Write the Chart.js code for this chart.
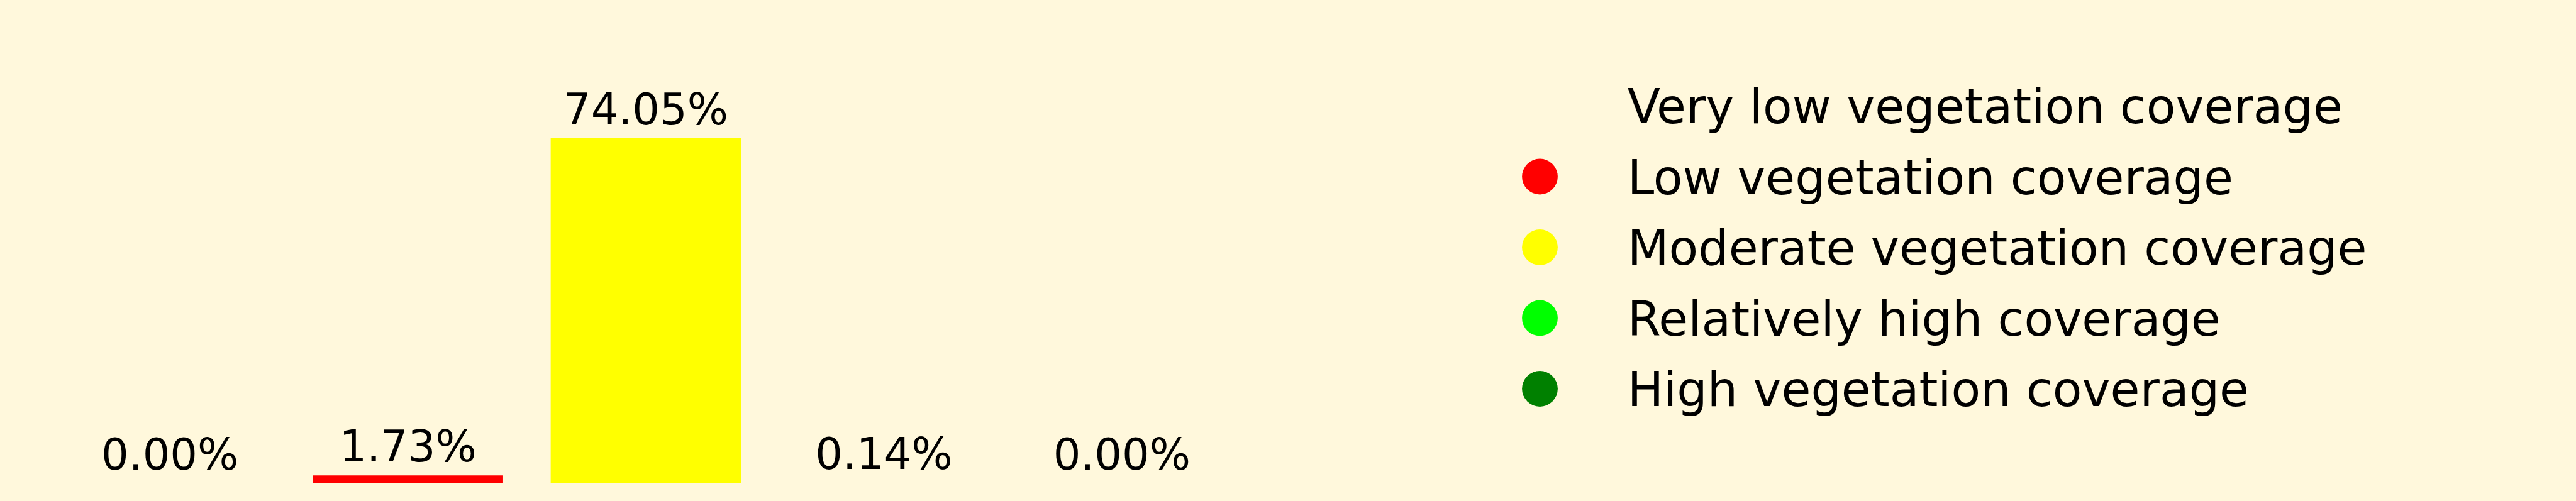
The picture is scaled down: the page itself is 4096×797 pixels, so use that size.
<!DOCTYPE html>
<html>
<head>
<meta charset="utf-8">
<title>Vegetation coverage</title>
<script src="https://cdn.jsdelivr.net/npm/chart.js@4/dist/chart.umd.min.js"></script>
<style>
  html, body { margin: 0; padding: 0; background: #FFF8DC; overflow: hidden; }
  #wrap { width: 4096px; height: 797px; }
</style>
</head>
<body>
<div id="wrap"><canvas id="bar-chart"></canvas></div>
<script>
// data
const categories = [
    "Very low vegetation coverage",
    "Low vegetation coverage",
    "Moderate vegetation coverage",
    "Relatively high coverage",
    "High vegetation coverage"
];
const shares = [0.00, 1.73, 74.05, 0.14, 0.00];
const barColors = ["#FFF8DC", "#FF0000", "#FFFF00", "#00FF00", "#008000"];

const FONT = "'DejaVu Sans', sans-serif";

// background fill
const bgPlugin = {
    id: 'bg',
    beforeDraw(chart) {
        const ctx = chart.ctx;
        ctx.save();
        ctx.fillStyle = '#FFF8DC';
        ctx.fillRect(0, 0, chart.width, chart.height);
        ctx.restore();
    }
};

// percentage above each bar
const valueLabels = {
    id: 'valueLabels',
    afterDatasetsDraw(chart) {
        const ctx = chart.ctx;
        const meta = chart.getDatasetMeta(0);
        ctx.save();
        ctx.font = '68.7px ' + FONT;
        ctx.fillStyle = '#000';
        ctx.textAlign = 'center';
        ctx.textBaseline = 'alphabetic';
        meta.data.forEach((bar, i) => {
            ctx.fillText(shares[i].toFixed(2) + '%', bar.x, bar.y - 22);
        });
        ctx.restore();
    }
};

// legend on the right, one row per category
const sideLegend = {
    id: 'sideLegend',
    afterDraw(chart) {
        const ctx = chart.ctx;
        const size = 76.3;
        const x0 = 2448.5, tx = 2587.7, y0 = 168.5, step = 112.5;
        ctx.save();
        ctx.font = size + 'px ' + FONT;
        ctx.textAlign = 'left';
        ctx.textBaseline = 'alphabetic';
        categories.forEach((name, i) => {
            const cy = y0 + i * step;
            ctx.beginPath();
            ctx.arc(x0, cy, 28.4, 0, Math.PI * 2);
            ctx.fillStyle = barColors[i];
            ctx.fill();
            ctx.fillStyle = '#000';
            ctx.fillText(name, tx, cy + size * 0.729 / 2);
        });
        ctx.restore();
    }
};

new Chart(document.getElementById("bar-chart"), {
    type: 'bar',
    data: {
        labels: categories,
        datasets: [
            {
                label: "Share of area",
                backgroundColor: barColors,
                data: shares,
                barPercentage: 0.8,
                categoryPercentage: 1.0
            }
        ]
    },
    options: {
        responsive: true,
        maintainAspectRatio: false,
        animation: false,
        layout: { padding: { left: 81, right: 2123, top: 27, bottom: 28 } },
        plugins: {
            legend: { display: false },
            tooltip: { enabled: false }
        },
        scales: {
            x: { display: false, offset: true },
            y: { display: false, min: 0, max: 100 }
        }
    },
    plugins: [bgPlugin, valueLabels, sideLegend]
});
</script>
</body>
</html>
